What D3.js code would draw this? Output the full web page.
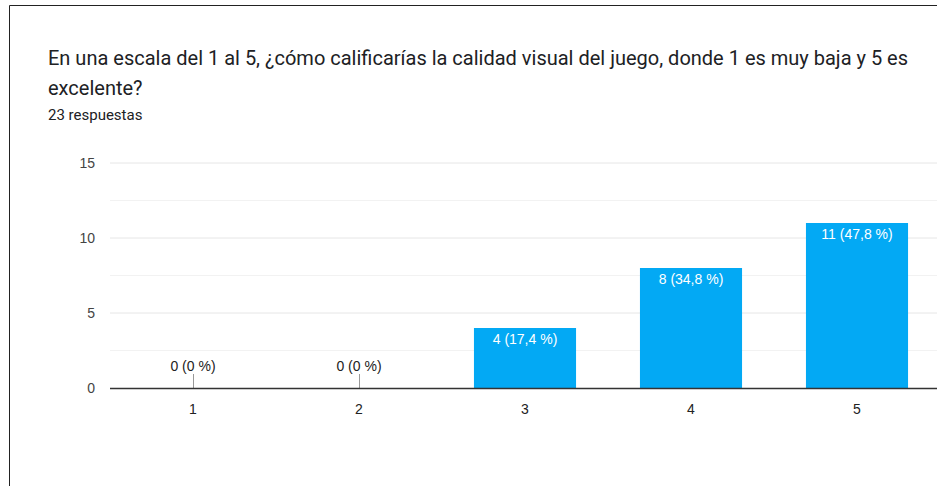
<!DOCTYPE html>
<html>
<head>
<meta charset="utf-8">
<script src="https://cdn.jsdelivr.net/npm/d3@7"></script>
<style>
  body { margin: 0; background: #fff; }
  svg text { font-family: "Liberation Sans", Arial, sans-serif; }
  svg text.head { font-family: Roboto, Arial, sans-serif; }
</style>
</head>
<body>
<div id="chart"></div>
<script>
// chart data
const categories = ["1", "2", "3", "4", "5"];
const counts = [0, 0, 4, 8, 11];
const labels = ["0 (0 %)", "0 (0 %)", "4 (17,4 %)", "8 (34,8 %)", "11 (47,8 %)"];
const yTicks = [0, 5, 10, 15];
const yMinorTicks = [2.5, 7.5, 12.5];
const titleLines = ["En una escala del 1 al 5, ¿cómo calificarías la calidad visual del juego, donde 1 es muy baja y 5 es", "excelente?"];
const subtitle = "23 respuestas";

const W = 937, H = 486;
const margin = { top: 163, right: 0, bottom: 98, left: 110 };

let svg = d3.select("#chart").append("svg")
    .attr("width", W)
    .attr("height", H);

// card border
svg.append("path")
    .attr("d", "M9.5," + H + "V5.5H" + W)
    .attr("fill", "none")
    .attr("stroke", "#222")
    .attr("stroke-width", 1);

svg.selectAll(".title")
    .data(titleLines)
    .enter().append("text")
    .attr("class", "head")
    .attr("x", 48)
    .attr("y", (d, i) => 65 + i * 30)
    .attr("font-size", 20)
    .attr("fill", "#202124")
    .text(d => d);

svg.append("text")
    .attr("class", "head")
    .attr("x", 48)
    .attr("y", 120)
    .attr("font-size", 15)
    .attr("fill", "#202124")
    .text(subtitle);

let width = 830, height = 225;
let g = svg.append("g")
    .attr("transform", "translate(" + margin.left + "," + margin.top + ")");

let x = d3.scaleBand()
    .domain(categories)
    .range([0, width])
    .paddingInner(0.385)
    .paddingOuter(0.1925);

let y = d3.scaleLinear()
    .domain([0, 15])
    .range([height, 0]);

// gridlines
g.selectAll(".minor")
    .data(yMinorTicks)
    .enter().append("line")
    .attr("x1", 0).attr("x2", width + 10)
    .attr("y1", d => y(d)).attr("y2", d => y(d))
    .attr("stroke", "#f2f2f2");

g.selectAll(".major")
    .data(yTicks.filter(d => d > 0))
    .enter().append("line")
    .attr("x1", 0).attr("x2", width + 10)
    .attr("y1", d => y(d)).attr("y2", d => y(d))
    .attr("stroke", "#e6e6e6");

g.selectAll(".ylab")
    .data(yTicks)
    .enter().append("text")
    .attr("x", -15)
    .attr("y", d => y(d) + 5)
    .attr("text-anchor", "end")
    .attr("font-size", 14)
    .attr("fill", "#444")
    .text(d => d);

let data = categories.map((c, i) => ({ cat: c, v: counts[i], label: labels[i] }));

g.selectAll(".bar")
    .data(data.filter(d => d.v > 0))
    .enter().append("rect")
    .attr("class", "bar")
    .attr("x", d => x(d.cat))
    .attr("y", d => y(d.v))
    .attr("width", x.bandwidth())
    .attr("height", d => height - y(d.v))
    .attr("fill", "#03a9f4");

// labels for zero values: stalk + text above
let zeros = data.filter(d => d.v === 0);
g.selectAll(".stalk")
    .data(zeros)
    .enter().append("line")
    .attr("x1", d => x(d.cat) + x.bandwidth() / 2 + 0.5)
    .attr("x2", d => x(d.cat) + x.bandwidth() / 2 + 0.5)
    .attr("y1", height - 14).attr("y2", height)
    .attr("stroke", "#999");

g.selectAll(".zlab")
    .data(zeros)
    .enter().append("text")
    .attr("x", d => x(d.cat) + x.bandwidth() / 2)
    .attr("y", height - 17)
    .attr("text-anchor", "middle")
    .attr("font-size", 14)
    .attr("fill", "#222")
    .text(d => d.label);

g.selectAll(".blab")
    .data(data.filter(d => d.v > 0))
    .enter().append("text")
    .attr("x", d => x(d.cat) + x.bandwidth() / 2)
    .attr("y", d => y(d.v) + 16)
    .attr("text-anchor", "middle")
    .attr("font-size", 14)
    .attr("fill", "#fff")
    .text(d => d.label);

// baseline
g.append("line")
    .attr("x1", 0).attr("x2", width + 10)
    .attr("y1", height + 0.5).attr("y2", height + 0.5)
    .attr("stroke", "#333")
    .attr("stroke-width", 1.5);

g.selectAll(".xlab")
    .data(categories)
    .enter().append("text")
    .attr("x", d => x(d) + x.bandwidth() / 2)
    .attr("y", height + 26)
    .attr("text-anchor", "middle")
    .attr("font-size", 14)
    .attr("fill", "#222")
    .text(d => d);
</script>
</body>
</html>
